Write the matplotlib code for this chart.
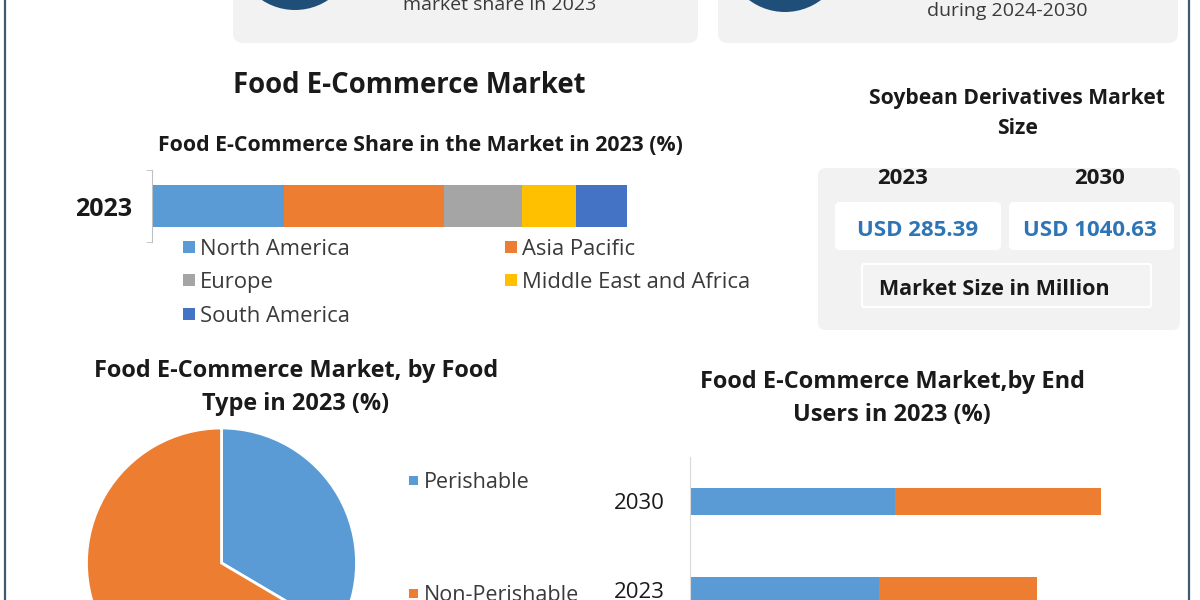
import matplotlib
matplotlib.use("Agg")
import matplotlib.pyplot as plt
from matplotlib.patches import FancyBboxPatch, Rectangle, Circle

plt.rcParams['font.family'] = ['Open Sans', 'DejaVu Sans']

# ---------------- data ----------------
regions = ["North America", "Asia Pacific", "Europe", "Middle East and Africa", "South America"]
region_share = [27.8, 33.7, 16.4, 11.4, 10.7]
region_colors = ["#5b9bd5", "#ed7d31", "#a5a5a5", "#ffc000", "#4472c4"]
share_year = ["2023"]

food_types = ["Perishable", "Non-Perishable"]
food_share = [33.5, 66.5]
food_colors = ["#5b9bd5", "#ed7d31"]

end_years = ["2023", "2030"]
end_seg1 = [46, 50]
end_seg2 = [38.5, 50]
end_colors = ["#5b9bd5", "#ed7d31"]

size_years = ["2023", "2030"]
size_values = ["USD 285.39", "USD 1040.63"]

W, H = 1200, 600
fig = plt.figure(figsize=(12, 6), dpi=100)
fig.patch.set_facecolor("white")

# overlay axes in pixel coordinates (layout decorations)
ov = fig.add_axes([0, 0, 1, 1])
ov.set_xlim(0, W)
ov.set_ylim(H, 0)
ov.axis("off")


def px_axes(x0, y0, x1, y1):
    return fig.add_axes([x0 / W, 1 - y1 / H, (x1 - x0) / W, (y1 - y0) / H])


def rbox(x0, y0, x1, y1, fc, ec="none", r=10, lw=0):
    ov.add_patch(FancyBboxPatch((x0, y0), x1 - x0, y1 - y0,
                                boxstyle=f"round,pad=0,rounding_size={r}",
                                fc=fc, ec=ec, lw=lw))


def txt(x, y, s, **kw):
    # small downward shift: matplotlib centres on the full glyph box incl. descent
    return ov.text(x, y + 2.5, s, ha=kw.pop("ha", "center"), va="center", **kw)


TXT = "#1a1a1a"
GREY_TXT = "#3a3a3a"

# frame lines
ov.plot([5, 5], [0, 600], color="#3d5a73", lw=1.6)
ov.plot([1189, 1189], [0, 600], color="#3d5a73", lw=1.6)

# top cards (cut off)
rbox(233, -30, 698, 43, "#f2f2f2", r=10)
rbox(718, -30, 1178, 43, "#f2f2f2", r=10)
ov.add_patch(Circle((295, -50), 60, fc="#1f4e79", ec="none"))
ov.add_patch(Circle((785, -48), 60, fc="#1f4e79", ec="none"))
txt(500, 2, "market share in 2023", fontsize=14, color=GREY_TXT)
txt(1007, 8, "during 2024-2030", fontsize=14, color=GREY_TXT)

# titles
txt(409, 83, "Food E-Commerce Market", fontsize=19.8, fontweight="bold", color=TXT)
txt(420, 143, "Food E-Commerce Share in the Market in 2023 (%)",
    fontsize=15.3, fontweight="bold", color=TXT)

# ---------------- stacked share bar ----------------
ax1 = px_axes(152, 170, 627, 242)
left = 0
for name, val, col in zip(regions, region_share, region_colors):
    ax1.barh(share_year, [val], left=[left], height=0.57, color=col, label=name)
    left += val
ax1.set_xlim(0, 100)
ax1.set_ylim(-0.5, 0.5)
for s in ["top", "right", "bottom"]:
    ax1.spines[s].set_visible(False)
ax1.spines["left"].set_color("#bfbfbf")
ax1.set_xticks([])
ax1.tick_params(axis="y", which="major", length=0, pad=14.5, labelsize=18, labelcolor=TXT)
for lab in ax1.get_yticklabels():
    lab.set_fontweight("bold")
ax1.set_yticks([-0.5, 0.5], minor=True)
ax1.tick_params(axis="y", which="minor", length=4, color="#bfbfbf")
ax1.patch.set_alpha(0)

# region legend (manual, 2 columns)
col_x = [183, 505]
row_y = [247, 280, 314]
for i, (name, col) in enumerate(zip(regions, region_colors)):
    cx = col_x[i % 2]
    cy = row_y[i // 2]
    ov.add_patch(Rectangle((cx, cy - 6), 12, 12, fc=col, ec="none"))
    txt(cx + 17, cy, name, ha="left", fontsize=15.8, color=GREY_TXT)

# ---------------- market size box ----------------
txt(1017, 111, "Soybean Derivatives Market\nSize", fontsize=15.2,
    fontweight="bold", color=TXT, linespacing=1.6)
rbox(818, 168, 1180, 330, "#f2f2f2", r=8)
size_cx = [903, 1100]
val_cx = [918, 1090]
boxes = [(835, 1001), (1009, 1174)]
for yr, val, cx, vx, (bx0, bx1) in zip(size_years, size_values, size_cx, val_cx, boxes):
    txt(cx, 176, yr, fontsize=16, fontweight="bold", color=TXT)
    rbox(bx0, 202, bx1, 250, "white", r=5)
    txt(vx, 228, val, fontsize=16, fontweight="bold", color="#2e75b6")
rbox(862, 264, 1151, 307, "#f3f3f3", ec="white", r=2, lw=1.5)
txt(994, 287, "Market Size in Million", fontsize=15.5, fontweight="bold", color=TXT)

# ---------------- pie ----------------
txt(296, 385, "Food E-Commerce Market, by Food\nType in 2023 (%)",
    fontsize=16.9, fontweight="bold", color=TXT, linespacing=1.55)
axp = px_axes(86.5, 428, 356.5, 698)
axp.pie(food_share, colors=food_colors, startangle=90, counterclock=False,
        wedgeprops=dict(edgecolor="white", linewidth=2))
axp.set_xlim(-1, 1)
axp.set_ylim(-1, 1)
axp.patch.set_alpha(0)

pie_leg_y = [480, 593]
for name, col, ly in zip(food_types, food_colors, pie_leg_y):
    ov.add_patch(Rectangle((409, ly - 4.5), 9, 9, fc=col, ec="none"))
    txt(424, ly, name, ha="left", fontsize=15.5, color=GREY_TXT)

# ---------------- end users bars ----------------
txt(892, 396, "Food E-Commerce Market,by End\nUsers in 2023 (%)",
    fontsize=16.9, fontweight="bold", color=TXT, linespacing=1.55)
ax2 = px_axes(690, 457, 1150, 600)
ax2.barh(end_years, end_seg1, height=0.303, color=end_colors[0])
ax2.barh(end_years, end_seg2, left=end_seg1, height=0.303, color=end_colors[1])
ax2.set_xlim(0, 112)
ax2.set_ylim(-0.107, 1.5)
for s in ["top", "right", "bottom"]:
    ax2.spines[s].set_visible(False)
ax2.spines["left"].set_color("#d9d9d9")
ax2.set_xticks([])
ax2.tick_params(axis="y", length=0, pad=18, labelsize=16, labelcolor=TXT)
ax2.patch.set_alpha(0)

fig.savefig("out.png", dpi=100, facecolor="white")
